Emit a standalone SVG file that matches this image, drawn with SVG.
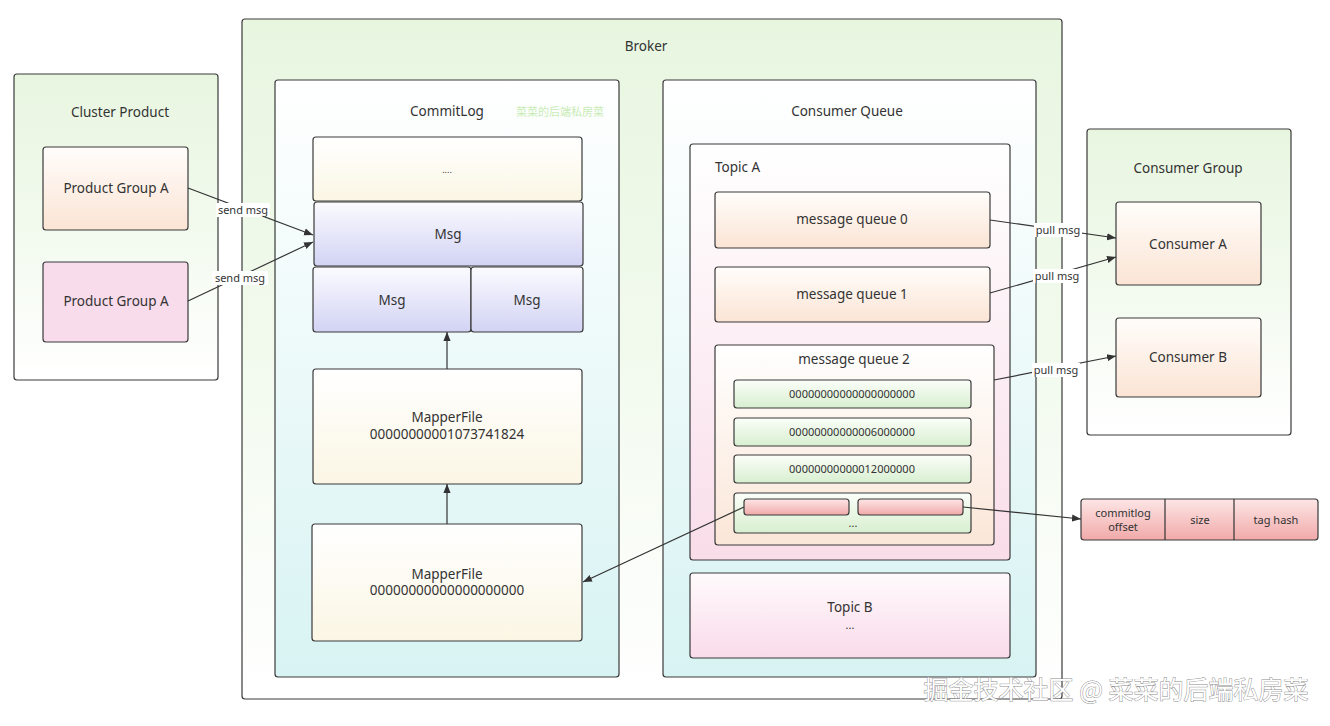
<svg xmlns="http://www.w3.org/2000/svg" width="1330" height="726" viewBox="0 0 1330 726">
<defs>
<linearGradient id="gGreen" x1="0" y1="0" x2="0" y2="1"><stop offset="0" stop-color="#e8f6e0"/><stop offset="0.5" stop-color="#f2faee"/><stop offset="1" stop-color="#ffffff"/></linearGradient>
<linearGradient id="gCyan" x1="0" y1="0" x2="0" y2="1"><stop offset="0" stop-color="#ffffff"/><stop offset="1" stop-color="#d8f3f3"/></linearGradient>
<linearGradient id="gPeach" x1="0" y1="0" x2="0" y2="1"><stop offset="0" stop-color="#fffdfb"/><stop offset="1" stop-color="#fbe4d4"/></linearGradient>
<linearGradient id="gPink" x1="0" y1="0" x2="0" y2="1"><stop offset="0" stop-color="#fffafc"/><stop offset="1" stop-color="#f9dbea"/></linearGradient>
<linearGradient id="gLav" x1="0" y1="0" x2="0" y2="1"><stop offset="0" stop-color="#fbfbff"/><stop offset="1" stop-color="#d2d3f4"/></linearGradient>
<linearGradient id="gYel" x1="0" y1="0" x2="0" y2="1"><stop offset="0" stop-color="#ffffff"/><stop offset="1" stop-color="#fbf6e4"/></linearGradient>
<linearGradient id="gLGreen" x1="0" y1="0" x2="0" y2="1"><stop offset="0" stop-color="#fbfef9"/><stop offset="1" stop-color="#d8efd0"/></linearGradient>
<linearGradient id="gRed" x1="0" y1="0" x2="0" y2="1"><stop offset="0" stop-color="#fde6e6"/><stop offset="1" stop-color="#f1a9a9"/></linearGradient>
<linearGradient id="gTopicA" x1="0" y1="0" x2="0" y2="1"><stop offset="0" stop-color="#ffffff"/><stop offset="1" stop-color="#f9dde9"/></linearGradient>
<linearGradient id="gMq2" x1="0" y1="0" x2="0" y2="1"><stop offset="0" stop-color="#ffffff"/><stop offset="1" stop-color="#fbe6d8"/></linearGradient>
<marker id="arr" viewBox="0 0 10 10" refX="10" refY="5" markerWidth="9" markerHeight="9" markerUnits="userSpaceOnUse" orient="auto"><path d="M0,1 L10,5 L0,9 Z" fill="#333"/></marker>
</defs>
<style>
.box{stroke:#3a3a3a;stroke-width:1.2}
.t{font-family:"Noto Sans","Open Sans","Noto Sans CJK SC",sans-serif;font-size:13.5px;fill:#333;text-anchor:middle}
.s{font-family:"Noto Sans","Open Sans","Noto Sans CJK SC",sans-serif;font-size:11px;fill:#333;text-anchor:middle}
.lbl{font-family:"Noto Sans","Open Sans","Noto Sans CJK SC",sans-serif;font-size:11px;fill:#333;text-anchor:middle}
.lblbg{fill:#ffffff}
.ln{stroke:#333;stroke-width:1.2;fill:none}
</style>
<rect width="1330" height="726" fill="#ffffff"/>

<g id="cluster-product">
<rect class="box" x="14" y="74" width="204" height="306" rx="3" fill="url(#gGreen)"/>
<text class="t" x="120" y="117">Cluster Product</text>
</g>
<g id="product-group-a1">
<rect class="box" x="43" y="147" width="145" height="83" rx="3" fill="url(#gPeach)"/>
<text class="t" x="116" y="193">Product Group A</text>
</g>
<g id="product-group-a2">
<rect class="box" x="43" y="262" width="145" height="80" rx="3" fill="#f9dcec"/>
<text class="t" x="116" y="306">Product Group A</text>
</g>

<g id="broker">
<rect class="box" x="242" y="19" width="820" height="680" rx="3" fill="url(#gGreen)"/>
<text class="t" x="646" y="51">Broker</text>
</g>

<g id="commitlog">
<rect class="box" x="275" y="80" width="344" height="597" rx="3" fill="url(#gCyan)"/>
<text class="t" x="447" y="116">CommitLog</text>
<text x="560" y="116" style="font-family:'Noto Sans CJK SC',sans-serif;font-size:11px;fill:#c8ecb4;text-anchor:middle">菜菜的后端私房菜</text>
</g>
<g id="dots-box">
<rect class="box" x="313" y="137" width="269" height="64" rx="3" fill="url(#gYel)"/>
<text class="s" x="447" y="173" style="font-size:9px">....</text>
</g>
<g id="msg-big">
<rect class="box" x="314" y="202" width="269" height="64" rx="3" fill="url(#gLav)"/>
<text class="t" x="448" y="239">Msg</text>
</g>
<g id="msg-left">
<rect class="box" x="313" y="267" width="158" height="65" rx="3" fill="url(#gLav)"/>
<text class="t" x="392" y="305">Msg</text>
</g>
<g id="msg-right">
<rect class="box" x="471" y="267" width="112" height="65" rx="3" fill="url(#gLav)"/>
<text class="t" x="527" y="305">Msg</text>
</g>
<g id="mapperfile-1">
<rect class="box" x="313" y="369" width="269" height="115" rx="3" fill="url(#gYel)"/>
<text class="t" x="447" y="422">MapperFile</text>
<text class="t" x="447" y="439">00000000001073741824</text>
</g>
<g id="mapperfile-0">
<rect class="box" x="312" y="524" width="270" height="117" rx="3" fill="url(#gYel)"/>
<text class="t" x="447" y="579">MapperFile</text>
<text class="t" x="447" y="595">00000000000000000000</text>
</g>

<g id="consumer-queue">
<rect class="box" x="663" y="80" width="373" height="597" rx="3" fill="url(#gCyan)"/>
<text class="t" x="847" y="116">Consumer Queue</text>
</g>
<g id="topic-a">
<rect class="box" x="690" y="144" width="320" height="416" rx="3" fill="url(#gTopicA)"/>
<text class="t" x="715" y="172" style="text-anchor:start">Topic A</text>
</g>
<g id="mq0">
<rect class="box" x="715" y="192" width="275" height="56" rx="3" fill="url(#gPeach)"/>
<text class="t" x="852" y="224">message queue 0</text>
</g>
<g id="mq1">
<rect class="box" x="715" y="267" width="275" height="55" rx="3" fill="url(#gPeach)"/>
<text class="t" x="852" y="299">message queue 1</text>
</g>
<g id="mq2">
<rect class="box" x="715" y="345" width="279" height="200" rx="3" fill="url(#gMq2)"/>
<text class="t" x="854" y="364">message queue 2</text>
</g>
<g id="cq-file-0">
<rect class="box" x="734" y="380" width="237" height="28" rx="3" fill="url(#gLGreen)"/>
<text class="s" x="852" y="398">00000000000000000000</text>
</g>
<g id="cq-file-1">
<rect class="box" x="734" y="418" width="237" height="28" rx="3" fill="url(#gLGreen)"/>
<text class="s" x="852" y="436">00000000000006000000</text>
</g>
<g id="cq-file-2">
<rect class="box" x="734" y="455" width="237" height="28" rx="3" fill="url(#gLGreen)"/>
<text class="s" x="852" y="473">00000000000012000000</text>
</g>
<g id="cq-file-n">
<rect class="box" x="734" y="493" width="237" height="40" rx="3" fill="url(#gLGreen)"/>
<text class="s" x="853" y="527">...</text>
</g>
<g id="entry-1">
<rect class="box" x="744" y="499" width="105" height="16" rx="3" fill="url(#gRed)"/>
</g>
<g id="entry-2">
<rect class="box" x="858" y="499" width="105" height="16" rx="3" fill="url(#gRed)"/>
</g>
<g id="topic-b">
<rect class="box" x="690" y="573" width="320" height="85" rx="3" fill="url(#gPink)"/>
<text class="t" x="850" y="612">Topic B</text>
<text class="s" x="850" y="629">...</text>
</g>

<g id="consumer-group">
<rect class="box" x="1087" y="129" width="204" height="306" rx="3" fill="url(#gGreen)"/>
<text class="t" x="1188" y="173">Consumer Group</text>
</g>
<g id="consumer-a">
<rect class="box" x="1116" y="202" width="145" height="83" rx="3" fill="url(#gPeach)"/>
<text class="t" x="1188" y="249">Consumer A</text>
</g>
<g id="consumer-b">
<rect class="box" x="1116" y="318" width="145" height="79" rx="3" fill="url(#gPeach)"/>
<text class="t" x="1188" y="362">Consumer B</text>
</g>

<g id="cq-entry-format">
<rect class="box" x="1081" y="499" width="237" height="41" rx="3" fill="url(#gRed)"/>
<line class="ln" x1="1165" y1="499" x2="1165" y2="540"/>
<line class="ln" x1="1234" y1="499" x2="1234" y2="540"/>
<text class="s" x="1123" y="517">commitlog</text>
<text class="s" x="1123" y="531">offset</text>
<text class="s" x="1200" y="524">size</text>
<text class="s" x="1276" y="524">tag hash</text>
</g>

<g id="connectors">
<line class="ln" x1="188" y1="188" x2="313" y2="235" marker-end="url(#arr)"/>
<line class="ln" x1="188" y1="301" x2="313" y2="242" marker-end="url(#arr)"/>
<line class="ln" x1="447" y1="369" x2="447" y2="332" marker-end="url(#arr)"/>
<line class="ln" x1="447" y1="524" x2="447" y2="484" marker-end="url(#arr)"/>
<line class="ln" x1="990" y1="220" x2="1116" y2="238" marker-end="url(#arr)"/>
<line class="ln" x1="990" y1="293" x2="1116" y2="257" marker-end="url(#arr)"/>
<line class="ln" x1="994" y1="380" x2="1116" y2="356" marker-end="url(#arr)"/>
<line class="ln" x1="744" y1="507" x2="583" y2="582" marker-end="url(#arr)"/>
<line class="ln" x1="963" y1="507" x2="1081" y2="519" marker-end="url(#arr)"/>
<rect class="lblbg" x="216" y="203" width="54" height="14"/>
<text class="lbl" x="243" y="214">send msg</text>
<rect class="lblbg" x="212" y="271" width="56" height="14"/>
<text class="lbl" x="240" y="282">send msg</text>
<rect class="lblbg" x="1034" y="223" width="48" height="14"/>
<text class="lbl" x="1058" y="234">pull msg</text>
<rect class="lblbg" x="1033" y="269" width="48" height="14"/>
<text class="lbl" x="1057" y="280">pull msg</text>
<rect class="lblbg" x="1032" y="363" width="48" height="14"/>
<text class="lbl" x="1056" y="374">pull msg</text>
</g>

<text x="1116" y="699" style="font-family:'Noto Sans CJK SC',sans-serif;font-size:25px;fill:#ffffff;stroke:#8a8a8a;stroke-width:0.9;text-anchor:middle;paint-order:stroke">掘金技术社区 @ 菜菜的后端私房菜</text>
</svg>
